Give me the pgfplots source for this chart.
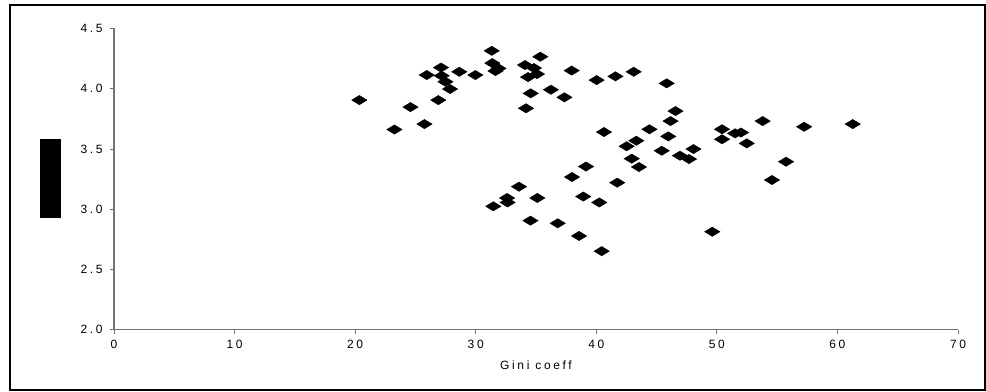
\documentclass[border=0pt]{standalone}
\usepackage{fontspec}
\setmainfont{Liberation Sans}
\newfontfamily\chartfont[LetterSpace=22]{Liberation Sans}
\usepackage{pgfplots}
\pgfplotsset{compat=1.18}
\begin{document}
\begin{tikzpicture}
\begin{axis}[
  at={(0,0)}, anchor=south west,
  scale only axis, width=633pt, height=226pt,
  xmin=0, xmax=70, ymin=2, ymax=4.5,
  axis x line=bottom, axis y line=left,
  axis line style={-, draw=black!55, line width=0.8pt},
  tick style={draw=black!55, line width=0.6pt},
  tick align=outside, major tick length=3pt,
  xtick={0,10,...,70}, ytick={2,2.5,...,4.5},
  /pgf/number format/assume math mode=true,
  tick label style={font=\chartfont\fontsize{9}{11}\selectfont, text=black},
  xticklabel style={yshift=-1pt},
  yticklabel style={xshift=-2pt, /pgf/number format/fixed, /pgf/number format/fixed zerofill, /pgf/number format/precision=1},
  xlabel={Gini coeff},
  xlabel style={font=\chartfont\fontsize{9}{11}\selectfont, at={(axis description cs:0.5,0)}, anchor=center, yshift=-26.5pt},
  clip=false,
]
\addplot[only marks, mark=diamond*, mark size=3.5pt,
  mark options={xscale=2.2, fill=black, draw=black, line width=0.3pt}]
  table {
x y
20.35 3.905
23.26 3.661
24.59 3.847
25.75 3.706
25.94 4.113
26.90 3.905
27.12 4.175
27.18 4.107
27.49 4.057
27.87 3.997
28.64 4.140
29.97 4.113
31.33 4.314
31.38 4.212
31.89 4.168
31.64 4.146
34.09 4.196
34.83 4.171
35.08 4.121
34.34 4.096
35.36 4.265
34.56 3.961
34.17 3.837
36.24 3.991
37.36 3.928
37.96 4.150
40.03 4.071
41.59 4.102
43.10 4.140
45.84 4.044
40.64 3.640
44.41 3.663
46.57 3.814
46.16 3.731
45.97 3.604
43.32 3.568
42.52 3.522
45.43 3.485
48.06 3.499
46.94 3.444
47.69 3.416
42.94 3.419
43.54 3.350
39.15 3.354
37.99 3.267
41.74 3.220
38.92 3.105
40.25 3.056
50.43 3.663
50.43 3.580
51.51 3.629
52.00 3.636
52.48 3.546
53.80 3.731
57.24 3.684
61.27 3.706
55.74 3.394
54.57 3.242
49.62 2.813
33.59 3.187
32.60 3.093
32.64 3.056
31.46 3.024
35.11 3.093
34.54 2.905
36.80 2.883
38.57 2.778
40.45 2.652
};
\end{axis}
\fill[black] (-55.5pt,83.8pt) rectangle (-39.75pt,143pt);
\draw[line width=1.5pt] (-78pt,-45.2pt) rectangle (653.25pt,243.5pt);
\path[use as bounding box] (-85.5pt,-46pt) rectangle (654pt,247.3pt);
\end{tikzpicture}
\end{document}
